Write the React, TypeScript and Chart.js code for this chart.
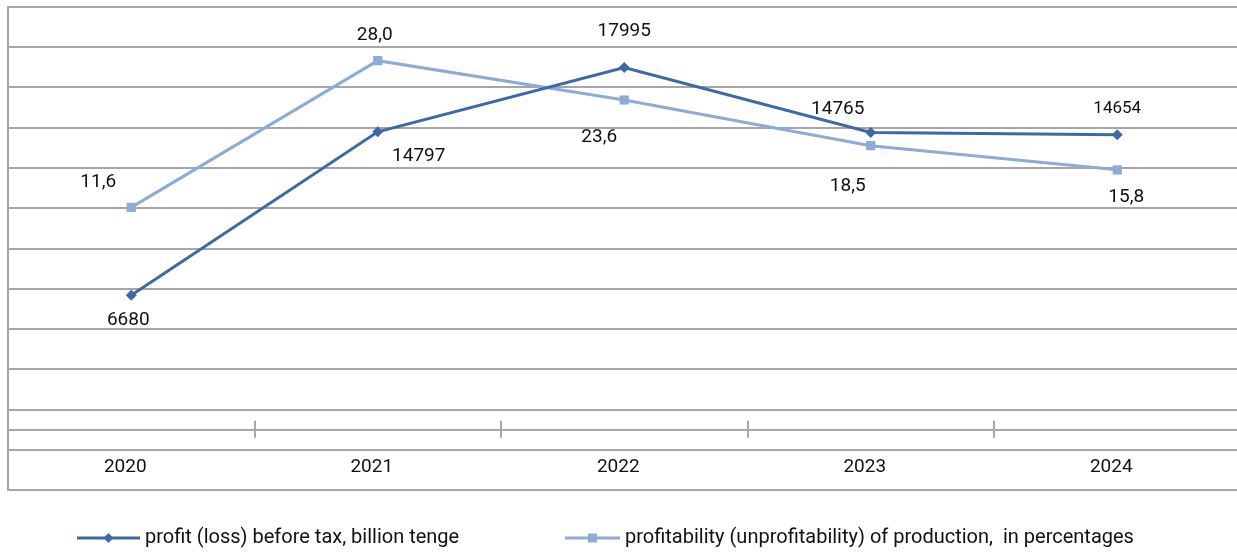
import React, { useEffect, useRef } from "react";
import { Chart, registerables } from "chart.js";

Chart.register(...registerables);

// ---- data ----
const years = ["2020", "2021", "2022", "2023", "2024"];
const profitBeforeTax = [6680, 14797, 17995, 14765, 14654];
const profitability = [11.6, 28.0, 23.6, 18.5, 15.8];
const profitText = ["6680", "14797", "17995", "14765", "14654"];
const profitabilityText = ["11,6", "28,0", "23,6", "18,5", "15,8"];
const seriesNames = [
  "profit (loss) before tax, billion tenge",
  "profitability (unprofitability) of production,  in percentages",
];

// ---- label placement (offsets from point, px) ----
const profitLabelOffsets = [[-3, 25], [41, 24], [0, -36], [-33, -23], [0, -26]];
const profitabilityLabelOffsets = [[-33, -25], [-3, -25], [-25, 37], [-23, 41], [9, 27]];

// ---- styles ----
const DARK = "#3d6aa7";
const LIGHT = "#8eaad6";
const GRID = "#a6a6a6";
const TEXT = "#111111";
const FONT = "Roboto";

const pointLabelPlugin = {
  id: "pointLabels",
  afterDatasetsDraw(chart: any) {
    const ctx = chart.ctx;
    ctx.save();
    ctx.fillStyle = TEXT;
    ctx.textAlign = "center";
    ctx.textBaseline = "middle";
    const sets: any[] = [
      [0, profitText, profitLabelOffsets],
      [1, profitabilityText, profitabilityLabelOffsets],
    ];
    sets.forEach(([di, texts, offs]) => {
      const meta = chart.getDatasetMeta(di);
      meta.data.forEach((pt: any, i: number) => {
        ctx.font = `${di === 0 && i === 4 ? 17 : 19}px ${FONT}`;
        ctx.fillText(texts[i], pt.x + offs[i][0], pt.y + offs[i][1]);
      });
    });
    ctx.restore();
  },
};

const crossTicksPlugin = {
  id: "crossTicks",
  beforeDatasetsDraw(chart: any) {
    const ctx = chart.ctx;
    const xs = chart.scales.x;
    const y0 = chart.scales.y.getPixelForValue(0);
    ctx.save();
    ctx.strokeStyle = GRID;
    ctx.lineWidth = 2;
    for (let i = 0; i < years.length - 1; i++) {
      const px = Math.round((xs.getPixelForValue(i) + xs.getPixelForValue(i + 1)) / 2);
      ctx.beginPath();
      ctx.moveTo(px, y0 - 9);
      ctx.lineTo(px, y0 + 8);
      ctx.stroke();
    }
    ctx.restore();
  },
};

const legendPlugin = {
  id: "lineLegend",
  afterDraw(chart: any) {
    const ctx = chart.ctx;
    const y = chart.chartArea.bottom + 48;
    const items = [
      { x: 77, w: 63, color: DARK, style: "diamond", text: seriesNames[0] },
      { x: 565, w: 55, color: LIGHT, style: "square", text: seriesNames[1] },
    ];
    ctx.save();
    items.forEach((it) => {
      ctx.strokeStyle = it.color;
      ctx.lineWidth = 3;
      ctx.beginPath();
      ctx.moveTo(it.x, y);
      ctx.lineTo(it.x + it.w, y);
      ctx.stroke();
      const cx = it.x + it.w / 2;
      ctx.fillStyle = it.color;
      ctx.beginPath();
      if (it.style === "diamond") {
        ctx.moveTo(cx, y - 5);
        ctx.lineTo(cx + 5, y);
        ctx.lineTo(cx, y + 5);
        ctx.lineTo(cx - 5, y);
        ctx.closePath();
      } else {
        ctx.rect(cx - 4.5, y - 4.5, 9, 9);
      }
      ctx.fill();
      ctx.fillStyle = TEXT;
      ctx.font = `20px ${FONT}`;
      ctx.textAlign = "left";
      ctx.textBaseline = "middle";
      ctx.fillText(it.text, it.x + it.w + 5, y);
    });
    ctx.restore();
  },
};

export default function App() {
  const ref = useRef<HTMLCanvasElement | null>(null);

  useEffect(() => {
    const canvas = ref.current;
    if (!canvas) return;
    const chart = new Chart(canvas, {
      type: "line",
      data: {
        labels: years,
        datasets: [
          {
            label: seriesNames[0],
            data: profitBeforeTax,
            yAxisID: "y",
            borderColor: DARK,
            backgroundColor: DARK,
            borderWidth: 3,
            pointStyle: "rectRot",
            pointRadius: 5.5,
            pointBorderWidth: 0,
            tension: 0,
          },
          {
            label: seriesNames[1],
            data: profitability,
            yAxisID: "y1",
            borderColor: LIGHT,
            backgroundColor: LIGHT,
            borderWidth: 3,
            pointStyle: "rect",
            pointRadius: 6.5,
            pointBorderWidth: 0,
            tension: 0,
          },
        ],
      },
      options: {
        animation: false,
        responsive: false,
        devicePixelRatio: 1,
        layout: { padding: { top: 7, left: 8, right: 1, bottom: 63 } },
        plugins: {
          legend: { display: false },
          tooltip: { enabled: false },
        },
        scales: {
          x: {
            type: "category",
            offset: true,
            position: { y: 0 } as any,
            grid: { display: true, drawOnChartArea: false, drawTicks: false, offset: true },
            border: { display: true, color: GRID, width: 2 },
            ticks: {
              color: TEXT,
              font: { family: FONT, size: 19 },
              padding: 26,
              labelOffset: -6,
              maxRotation: 0,
            },
          },
          y: {
            min: -3000,
            max: 21000,
            position: "left",
            ticks: { display: false, stepSize: 2000 },
            grid: { color: GRID, lineWidth: 2, drawTicks: false },
            border: { display: true, color: GRID, width: 2 },
          },
          y1: {
            min: -20,
            max: 34,
            position: "right",
            display: false,
            grid: { drawOnChartArea: false },
          },
        },
      },
      plugins: [crossTicksPlugin, pointLabelPlugin, legendPlugin],
    });
    return () => chart.destroy();
  }, []);

  return (
    <div
      style={{
        position: "absolute",
        left: 0,
        top: 0,
        width: 1237,
        height: 553,
        overflow: "hidden",
        background: "#ffffff",
      }}
    >
      <canvas ref={ref} width={1247} height={553} style={{ display: "block" }} />
    </div>
  );
}
